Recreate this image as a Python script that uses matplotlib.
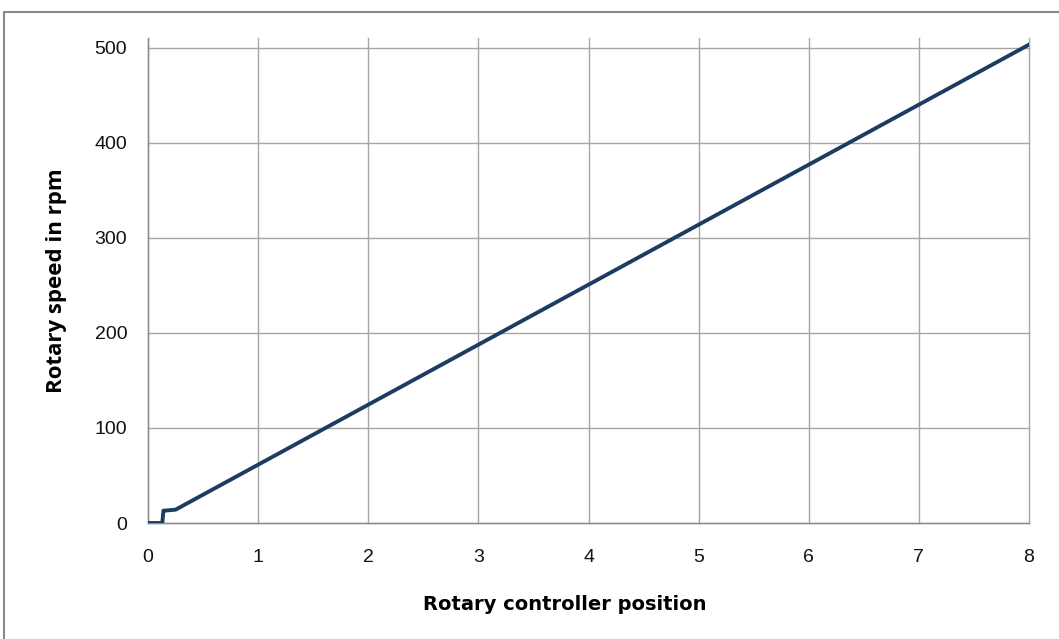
import matplotlib
matplotlib.use("Agg")
import matplotlib.pyplot as plt
from matplotlib.patches import Rectangle

plt.rcParams["font.family"] = ["Liberation Sans", "DejaVu Sans"]

# Data
position = [0, 0.13, 0.14, 0.15, 0.25, 8]
speed = [0, 0, 13, 13, 14, 503]
x_ticks = [0, 1, 2, 3, 4, 5, 6, 7, 8]
y_ticks = [0, 100, 200, 300, 400, 500]

fig = plt.figure(figsize=(10.59, 6.39), dpi=100)
fig.patches.append(Rectangle((4/1059, -0.1), 1.2, 1 - 12/639 + 0.1, transform=fig.transFigure,
                             fill=False, edgecolor="#8a8a8a", linewidth=1.5))
ax = fig.add_axes([148/1059, 1 - 523/639, (1029 - 148)/1059, (523 - 38)/639])
ax.plot(position, speed, color="#1d3c62", linewidth=2.8, solid_joinstyle="round", zorder=3)
ax.set_xlim(0, 8)
ax.set_ylim(0, 510)
ax.set_xticks(x_ticks)
ax.set_yticks(y_ticks)
ax.grid(True, color="#a6a6a6", linewidth=1.0)
for gl in ax.get_xgridlines() + ax.get_ygridlines():
    gl.set_clip_on(False)
ax.set_axisbelow(True)
for s in ["top", "right"]:
    ax.spines[s].set_visible(False)
for s in ["left", "bottom"]:
    ax.spines[s].set_color("#8c8c8c")
    ax.spines[s].set_linewidth(1.0)
ax.tick_params(length=0, labelsize=14, colors="#111111")
ax.tick_params(axis="x", pad=19)
ax.tick_params(axis="y", pad=15)
ax.set_xlabel("Rotary controller position", fontsize=14, fontweight="bold",
              family="DejaVu Sans")
ax.xaxis.set_label_coords(0.473, -0.148)
ax.set_ylabel("Rotary speed in rpm", fontsize=16, fontweight="bold",
              family="Open Sans", labelpad=20)
fig.savefig("out.png", dpi=100)
